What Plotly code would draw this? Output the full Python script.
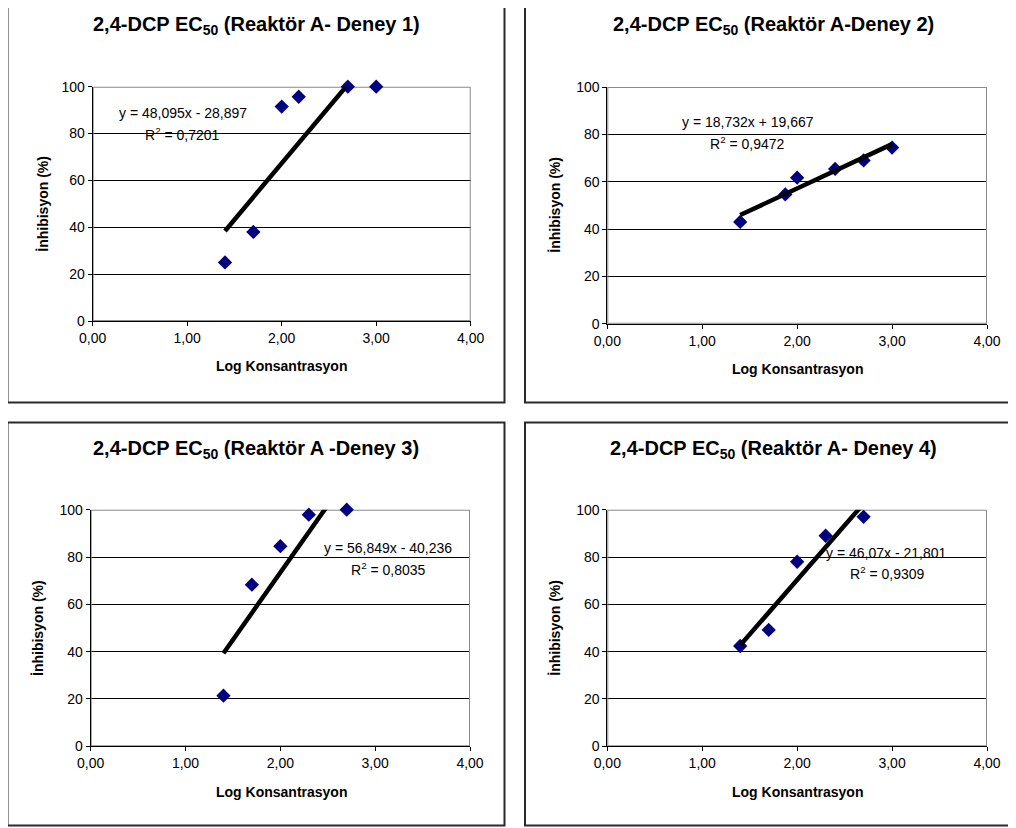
import plotly.graph_objects as go
import numpy as np

W, H = 1016, 828
OFF = 8  # page body margin offset of the rendered figure
FONT = "Liberation Sans, Arial, sans-serif"

# ---------------- data ----------------
titles = [
    "2,4-DCP EC<sub>50</sub> (Reaktör A- Deney 1)",
    "2,4-DCP EC<sub>50</sub> (Reaktör A-Deney 2)",
    "2,4-DCP EC<sub>50</sub> (Reaktör A -Deney 3)",
    "2,4-DCP EC<sub>50</sub> (Reaktör A- Deney 4)",
]

x_d1 = [1.40, 1.70, 2.00, 2.18, 2.70, 3.00]
y_d1 = [25.0, 38.0, 91.5, 95.7, 100.0, 100.0]

x_d2 = [1.40, 1.875, 2.00, 2.40, 2.70, 3.00]
y_d2 = [43.0, 54.6, 61.7, 65.4, 69.0, 74.4]

x_d3 = [1.40, 1.70, 2.00, 2.30, 2.70]
y_d3 = [21.4, 68.3, 84.6, 97.9, 100.0]

x_d4 = [1.40, 1.70, 2.00, 2.30, 2.70]
y_d4 = [42.4, 49.2, 78.0, 89.0, 97.0]

slopes = [48.095, 18.732, 56.849, 46.07]
intercepts = [-28.897, 19.667, -40.236, -21.801]
eq_texts = ["y = 48,095x - 28,897", "y = 18,732x + 19,667",
            "y = 56,849x - 40,236", "y = 46,07x - 21,801"]
r2_values = ["0,7201", "0,9472", "0,8035", "0,9309"]

x_tickvals = [0, 1, 2, 3, 4]
x_ticktext = ["0,00", "1,00", "2,00", "3,00", "4,00"]
y_tickvals = [0, 20, 40, 60, 80, 100]
x_title = "Log Konsantrasyon"
y_title = "İnhibisyon (%)"

series_x = [x_d1, x_d2, x_d3, x_d4]
series_y = [y_d1, y_d2, y_d3, y_d4]

# ---------------- layout geometry (pixels) ----------------
panels = [
    dict(px=(92.7, 470.7), py=(86.7, 321.0), box=(7.5, -3, 504.5, 402.5),
         title=(256, 26), xt=(281.7, 366), yt=(42.7, 204), eq=(0.96, 88.8), r2=(0.95, 79.8)),
    dict(px=(607.3, 987.0), py=(87.0, 323.7), box=(525, -3, 1030, 402.5),
         title=(773, 26), xt=(797, 369), yt=(554.7, 205), eq=(1.48, 85.3), r2=(1.48, 76.5)),
    dict(px=(90.7, 470.0), py=(509.7, 746.3), box=(7.5, 422.5, 504.5, 825.5),
         title=(256, 449), xt=(281.5, 791.7), yt=(38, 628), eq=(3.136, 83.7), r2=(3.14, 74.8)),
    dict(px=(607.3, 987.0), py=(509.7, 746.3), box=(525, 422.5, 1030, 825.5),
         title=(773, 449), xt=(797, 791.7), yt=(554.7, 628), eq=(2.937, 81.8), r2=(2.95, 73.1)),
]


def fx(p):
    return (p - OFF) / W


def fy(p):
    return 1 - (p - OFF) / H


fig = go.Figure()
shapes = []
annotations = []

for i, pnl in enumerate(panels):
    n = "" if i == 0 else str(i + 1)
    xa, ya = "x" + n, "y" + n

    xs, ys = series_x[i], series_y[i]
    fig.add_trace(go.Scatter(
        x=xs, y=ys, mode="markers", xaxis=xa, yaxis=ya, cliponaxis=False,
        marker=dict(symbol="diamond", size=11, color="#000080",
                    line=dict(width=0)),
        showlegend=False, hoverinfo="x+y"))

    tx = np.array([min(xs), max(xs)])
    ty = slopes[i] * tx + intercepts[i]
    fig.add_trace(go.Scatter(
        x=tx, y=ty, mode="lines", xaxis=xa, yaxis=ya,
        line=dict(color="black", width=4.5), showlegend=False, hoverinfo="skip"))

    axis_common = dict(
        showline=True, linecolor="black", linewidth=1,
        ticks="outside", ticklen=4, tickcolor="black", tickwidth=1,
        zeroline=False, fixedrange=True, automargin=False,
        tickfont=dict(family=FONT, size=14, color="black"),
    )
    fig.layout["xaxis" + n] = dict(
        axis_common, domain=[fx(pnl["px"][0]), fx(pnl["px"][1])],
        range=[0, 4], tickvals=x_tickvals, ticktext=x_ticktext,
        showgrid=False, anchor=ya)
    fig.layout["yaxis" + n] = dict(
        axis_common, domain=[fy(pnl["py"][1]), fy(pnl["py"][0])],
        range=[0, 100], tickvals=y_tickvals, showgrid=True,
        gridcolor="black", gridwidth=1, anchor=xa)

    # grey plot-area border (top/right) above grid, below traces
    shapes.append(dict(type="rect", xref=xa, yref=ya, x0=0, x1=4, y0=0, y1=100,
                       line=dict(color="#8a8a8a", width=2), layer="between"))
    # outer chart border
    b = pnl["box"]
    shapes.append(dict(type="rect", xref="paper", yref="paper",
                       x0=fx(b[0]), x1=fx(b[2]), y0=fy(b[3]), y1=fy(b[1]),
                       line=dict(color="#2a2a2a", width=2), layer="below"))

    annotations.append(dict(
        text="<b>" + titles[i] + "</b>", xref="paper", yref="paper",
        x=fx(pnl["title"][0]), y=fy(pnl["title"][1]), showarrow=False,
        xanchor="center", yanchor="middle",
        font=dict(family=FONT, size=20, color="black")))
    annotations.append(dict(
        text="<b>" + x_title + "</b>", xref="paper", yref="paper",
        x=fx(pnl["xt"][0]), y=fy(pnl["xt"][1]), showarrow=False,
        xanchor="center", yanchor="middle",
        font=dict(family=FONT, size=14, color="black")))
    annotations.append(dict(
        text="<b>" + y_title + "</b>", xref="paper", yref="paper",
        x=fx(pnl["yt"][0]), y=fy(pnl["yt"][1]), showarrow=False, textangle=-90,
        xanchor="center", yanchor="middle",
        font=dict(family=FONT, size=14, color="black")))
    annotations.append(dict(
        text=eq_texts[i], xref=xa, yref=ya, x=pnl["eq"][0], y=pnl["eq"][1],
        showarrow=False, xanchor="center", yanchor="middle",
        font=dict(family=FONT, size=14, color="black")))
    annotations.append(dict(
        text="R<sup>2</sup> = " + r2_values[i], xref=xa, yref=ya,
        x=pnl["r2"][0], y=pnl["r2"][1],
        showarrow=False, xanchor="center", yanchor="middle",
        font=dict(family=FONT, size=14, color="black")))

fig.update_layout(
    width=W, height=H, autosize=False,
    margin=dict(l=0, r=0, t=0, b=0, pad=0, autoexpand=False),
    paper_bgcolor="white", plot_bgcolor="white",
    shapes=shapes, annotations=annotations,
    font=dict(family=FONT, color="black"),
    showlegend=False,
)

fig.write_html("out.html", include_plotlyjs=True, config={"displayModeBar": False})
